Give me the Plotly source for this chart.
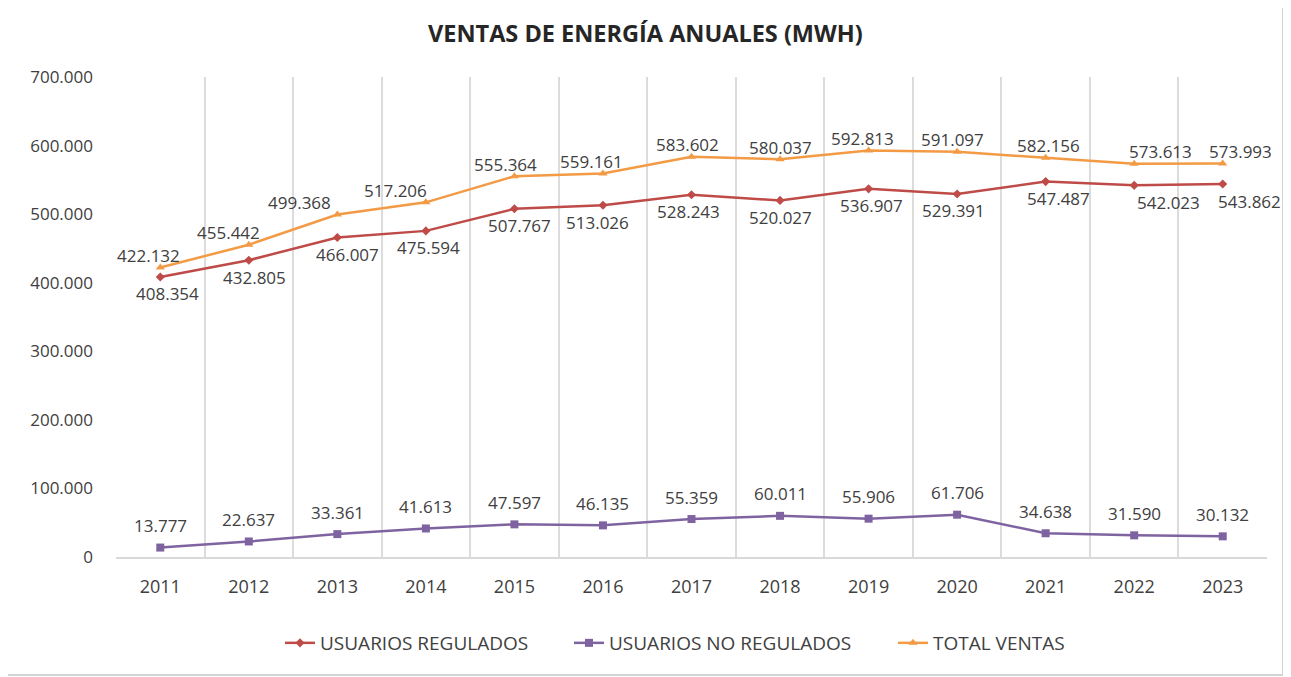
import plotly.graph_objects as go

years = ["2011", "2012", "2013", "2014", "2015", "2016", "2017",
         "2018", "2019", "2020", "2021", "2022", "2023"]
regulados = [408354, 432805, 466007, 475594, 507767, 513026, 528243,
             520027, 536907, 529391, 547487, 542023, 543862]
no_regulados = [13777, 22637, 33361, 41613, 47597, 46135, 55359,
                60011, 55906, 61706, 34638, 31590, 30132]
total = [422132, 455442, 499368, 517206, 555364, 559161, 583602,
         580037, 592813, 591097, 582156, 573613, 573993]
y_ticks = [0, 100000, 200000, 300000, 400000, 500000, 600000, 700000]

# label nudges (px) to mimic manually placed labels
total_dx = [-12, -20, -38, -30, -9, -11, -4, 0, -6, -5, 3, 26, 18]
reg_dx = [7, 6, 10, 3, 5, -5, -3, 0, 3, -4, 13, 34, 27]

# page body has an 8px margin; the figure is sized to fill the rest
OFF = 8
W, H = 1291 - OFF, 677 - OFF
L, R, T, B = 116 - OFF, 24, 77 - OFF, 120
pw, ph = W - L - R, H - T - B


def px_x(x):
    return (x - OFF - L) / pw


def px_y(y):
    return (H - B - (y - OFF)) / ph


RED = "#BE4B48"
PURPLE = "#7F63A1"
ORANGE = "#F39A45"
TXT = "#404040"
FONT = "Open Sans"

xs = list(range(len(years)))

fig = go.Figure()
fig.add_trace(go.Scatter(x=xs, y=regulados, name="USUARIOS REGULADOS",
                         mode="lines+markers", legend="legend",
                         line=dict(color=RED, width=2.5),
                         marker=dict(symbol="diamond", size=7, color=RED)))
fig.add_trace(go.Scatter(x=xs, y=no_regulados, name="USUARIOS NO REGULADOS",
                         mode="lines+markers", legend="legend2",
                         line=dict(color=PURPLE, width=2.5),
                         marker=dict(symbol="square", size=8, color=PURPLE)))
fig.add_trace(go.Scatter(x=xs, y=total, name="TOTAL VENTAS",
                         mode="lines+markers", legend="legend3",
                         line=dict(color=ORANGE, width=2.5),
                         marker=dict(symbol="triangle-up", size=8, color=ORANGE)))


def fmt(v):
    return f"{v:,}".replace(",", ".")


lab_font = dict(size=17, color=TXT, family=FONT)
anns = []
for i, v in enumerate(total):
    anns.append(dict(x=i, y=v, text=fmt(v), showarrow=False, xshift=total_dx[i],
                     yshift=12, yanchor="middle", font=lab_font))
for i, v in enumerate(regulados):
    anns.append(dict(x=i, y=v, text=fmt(v), showarrow=False, xshift=reg_dx[i],
                     yshift=-17, yanchor="middle", font=lab_font))
for i, v in enumerate(no_regulados):
    anns.append(dict(x=i, y=v, text=fmt(v), showarrow=False,
                     yshift=22, yanchor="middle", font=lab_font))

anns.append(dict(xref="paper", yref="paper",
                 x=px_x(645), y=px_y(33),
                 text="<b>VENTAS DE ENERGÍA ANUALES (MWH)</b>", showarrow=False,
                 xanchor="center", yanchor="middle",
                 font=dict(size=23.5, color="#262626", family=FONT)))

# chart border
shapes = [dict(type="rect", xref="paper", yref="paper",
               x0=px_x(6), x1=px_x(1283),
               y0=px_y(675), y1=px_y(6),
               line=dict(color="#d4d4d4", width=2), fillcolor="rgba(0,0,0,0)",
               layer="below")]


def leg(xpx):
    return dict(orientation="h", x=px_x(xpx), xanchor="left",
                y=px_y(643), yanchor="middle",
                font=dict(size=19, color=TXT, family=FONT),
                itemwidth=30, bgcolor="rgba(0,0,0,0)")


fig.update_layout(
    width=W, height=H,
    margin=dict(l=L, r=R, t=T, b=B, pad=0),
    paper_bgcolor="white", plot_bgcolor="white",
    separators=",.",
    font=dict(family=FONT, color=TXT, size=16),
    annotations=anns,
    shapes=shapes,
    showlegend=True,
    legend=leg(280),
    legend2=leg(569),
    legend3=leg(893),
    xaxis=dict(range=[-0.5, len(years) - 0.5], tickvals=xs, ticktext=years,
               showgrid=False, zeroline=False,
               showline=True, linecolor="#d9d9d9", linewidth=1.5,
               ticks="", ticklabelstandoff=13,
               tickfont=dict(size=18, color=TXT, family=FONT),
               minor=dict(tickvals=[i - 0.5 for i in range(len(years) + 1)],
                          showgrid=True, gridcolor="#dcdcdc", gridwidth=1.5, ticks="")),
    yaxis=dict(range=[0, 700000], tickvals=y_ticks, tickformat=",",
               showgrid=False, zeroline=False, showline=False,
               ticks="", ticklabelstandoff=22,
               tickfont=dict(size=17, color=TXT, family=FONT)),
)

fig.write_html("out.html")
